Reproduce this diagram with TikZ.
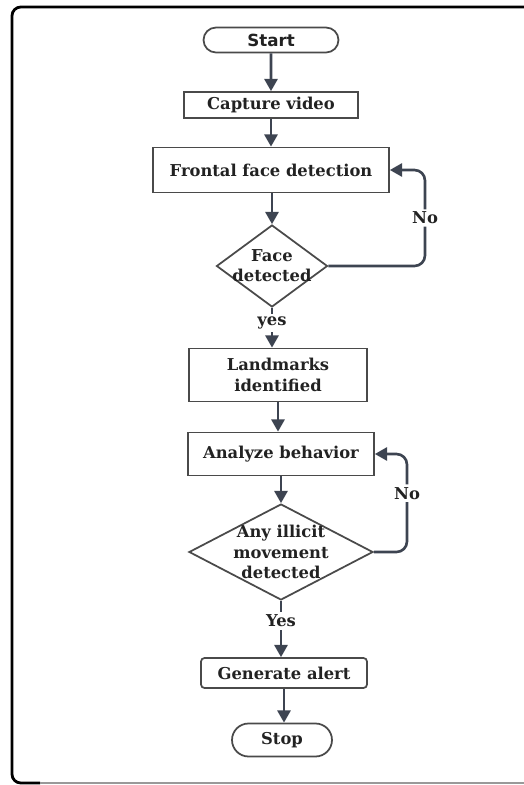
\documentclass[tikz,border=0pt]{standalone}
\usepackage{fontspec}
\setmainfont{DejaVu Serif}
\newfontfamily\startfont{DejaVu Sans}
\usetikzlibrary{shapes.geometric,shapes.misc,arrows.meta}
\definecolor{trait}{HTML}{3D4451}
\definecolor{bord}{HTML}{4A4A4A}
\definecolor{texte}{HTML}{222222}

\begin{document}
\begin{tikzpicture}[
    x=0.02cm, y=-0.02cm,
    every node/.style={font=\bfseries\fontsize{9.3}{11.5}\selectfont, text=texte},
    boite/.style={draw=bord, line width=1pt, rectangle, align=center, inner sep=0pt},
    terminal/.style={draw=bord, line width=1pt, rounded rectangle, inner sep=0pt},
    decision/.style={draw=bord, line width=1pt, diamond, inner sep=0pt},
    fleche/.style={draw=trait, line width=1.5pt, -{Triangle[length=7pt,width=7.5pt]}},
    etiq/.style={fill=white, inner sep=1.5pt},
  ]
  \useasboundingbox (0,0) rectangle (524,785);
  \clip (0,0) rectangle (524,785);
  % cadre
  \draw[line width=1.6pt, rounded corners=5pt] (540,7) -- (12,7) -- (12,783) -- (40,783);
  \draw[black!40, line width=1.2pt] (40,783) -- (540,783);

  \node[terminal, minimum width=2.7cm, minimum height=0.5cm,
        font=\startfont\bfseries\fontsize{9.5}{11}\selectfont] (start) at (271,40) {Start};
  \node[boite, minimum width=3.48cm, minimum height=0.52cm] (capture) at (271,105) {Capture video};
  \node[boite, minimum width=4.72cm, minimum height=0.9cm] (frontal) at (271,170) {Frontal face detection};
  \node[decision, minimum width=2.22cm, minimum height=1.64cm,
        label={[align=center]center:Face\\detected}] (face) at (272,266) {};
  \node[boite, minimum width=3.56cm, minimum height=1.06cm] (landmarks) at (278,375) {Landmarks\\identified};
  \node[boite, minimum width=3.72cm, minimum height=0.86cm] (analyze) at (281,454) {Analyze behavior};
  \node[decision, minimum width=3.68cm, minimum height=1.92cm,
        label={[align=center]center:Any illicit\\movement\\detected}] (illicit) at (281,552) {};
  \node[boite, rounded corners=2pt, minimum width=3.32cm, minimum height=0.6cm] (alert) at (284,673) {Generate alert};
  \node[terminal, minimum width=2cm, minimum height=0.66cm] (stop) at (282,740) {Stop};

  \coordinate (retourA) at (425,266);   % boucle visage
  \coordinate (retourB) at (407,552);   % boucle comportement

  \draw[fleche] (start) -- (capture);
  \draw[fleche] (capture) -- (frontal);
  \draw[fleche] (frontal.south -| face) -- (face.north);
  \draw[fleche] (face.south) -- node[etiq, pos=0.38]{yes} (face.south |- landmarks.north);
  \draw[fleche] (landmarks.south) -- (landmarks.south |- analyze.north);
  \draw[fleche] (analyze) -- (illicit);
  \draw[fleche] (illicit.south) -- node[etiq, pos=0.36]{Yes} (illicit.south |- alert.north);
  \draw[fleche] (alert.south) -- (alert.south |- stop.north);
  \draw[fleche, rounded corners=6pt] (face.east) -- (retourA) |- node[etiq, pos=0.25]{No} (frontal.east);
  \draw[fleche, rounded corners=6pt] (illicit.east) -- (retourB) |- node[etiq, pos=0.3]{No} (analyze.east);
\end{tikzpicture}
\end{document}
